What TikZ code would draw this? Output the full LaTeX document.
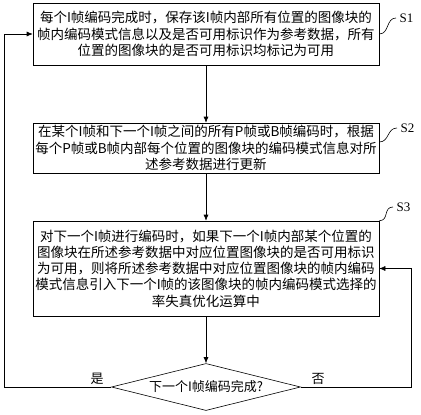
\documentclass[tikz,border=0pt]{standalone}
\usepackage{fontspec}
\setmainfont{Noto Sans CJK SC}
\newfontfamily\labfont{Liberation Serif}
\usetikzlibrary{shapes.geometric,arrows.meta}

\begin{document}
\begin{tikzpicture}[x=1pt, y=-1pt, line width=0.6pt,
  stepbox/.style={draw, rectangle, minimum width=346pt, align=center, inner sep=0pt, font=\fontsize{13.5}{16.3}\selectfont},
  decision/.style={draw, diamond, aspect=4, minimum width=189pt, minimum height=47pt, inner sep=0pt, font=\fontsize{13}{15}\selectfont},
  steplab/.style={anchor=west, font=\labfont\fontsize{13}{15}\selectfont},
  branch/.style={font=\fontsize{13}{15}\selectfont},
  arr/.style={-{Latex[length=6pt,width=5pt]}}]
  \useasboundingbox (0,0) rectangle (421,415);
  \node[stepbox, minimum height=62pt] (s1) at (206,34)
    {每个I帧编码完成时，保存该I帧内部所有位置的图像块的\\
     帧内编码模式信息以及是否可用标识作为参考数据，所有\\
     位置的图像块的是否可用标识均标记为可用};
  \node[stepbox, minimum height=50pt] (s2) at (206,148)
    {在某个I帧和下一个I帧之间的所有P帧或B帧编码时，根据\\
     每个P帧或B帧内部每个位置的图像块的编码模式信息对所\\
     述参考数据进行更新};
  \node[stepbox, minimum height=95pt] (s3) at (206,268.5)
    {对下一个I帧进行编码时，如果下一个I帧内部某个位置的\\
     图像块在所述参考数据中对应位置图像块的是否可用标识\\
     为可用，则将所述参考数据中对应位置图像块的帧内编码\\
     模式信息引入下一个I帧的该图像块的帧内编码模式选择的\\
     率失真优化运算中};
  \node[decision] (done) at (206,387) {下一个I帧编码完成?};
  \node[steplab] (l1) at (396,18) {S1};
  \node[steplab] (l2) at (397,128) {S2};
  \node[steplab] (l3) at (393,207) {S3};
  \node[branch] (yes) at (97,379) {是};
  \node[branch] (no) at (318,379) {否};
  \coordinate (lc) at (4,387);
  \coordinate (rc) at (411,387);

  \draw[arr] (s1) -- (s2);
  \draw[arr] (s2) -- (s3);
  \draw[arr] (s3) -- (done);
  \draw[arr] (done.west) -- (lc) |- (s1.west);
  \draw[arr] (done.east) -- (rc) |- (s3.east);
  \draw (s1.east) .. controls +(10,0) and +(-10,0) .. (l1.west);
  \draw ([yshift=6pt]s2.east) .. controls +(10,0) and +(-10,0) .. (l2.west);
  \draw (s3.north east) .. controls +(10,0) and +(-10,0) .. (l3.west);
\end{tikzpicture}
\end{document}
